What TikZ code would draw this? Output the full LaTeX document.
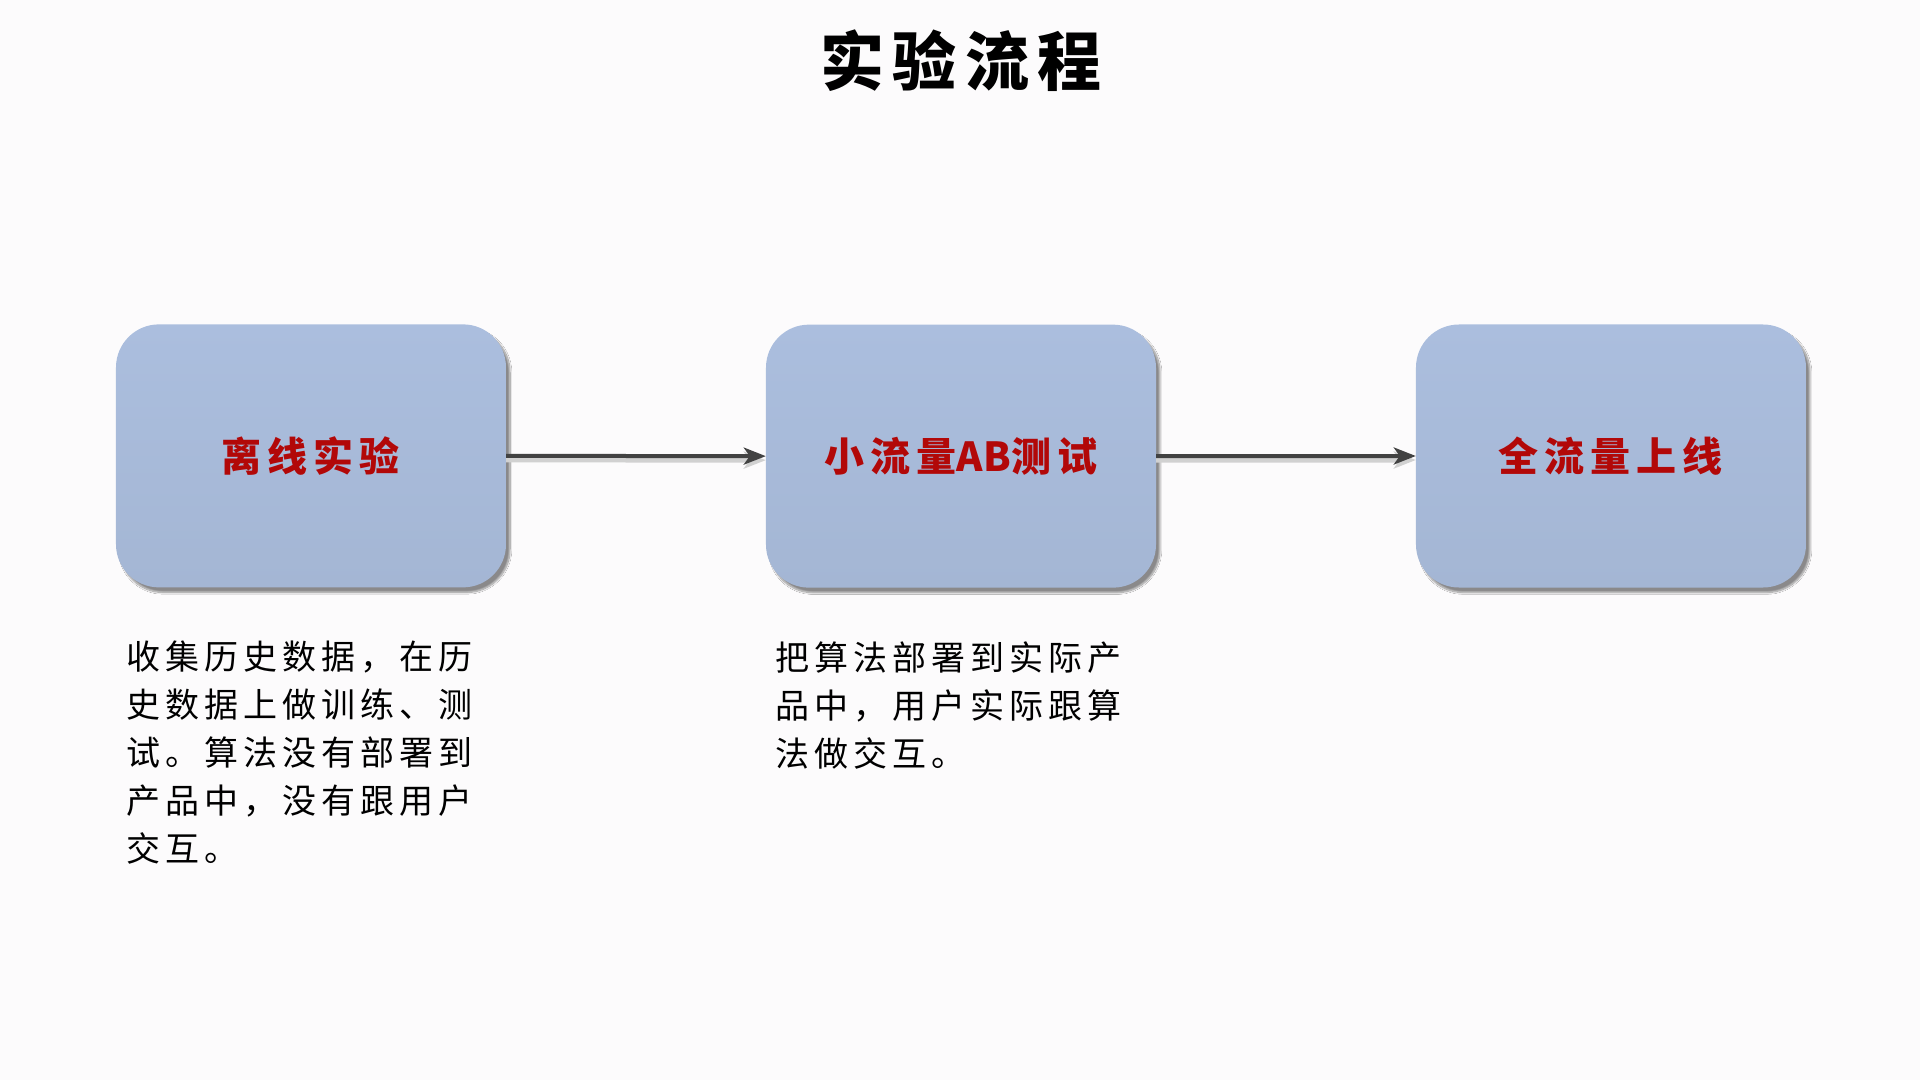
\documentclass[tikz,border=0pt]{standalone}
\usepackage{fontspec}
\usepackage{tikz}
\usetikzlibrary{matrix,shadows.blur,arrows.meta}
\newfontfamily\cjk{Noto Sans CJK SC}
\newcommand{\tightlatin}[1]{{\addfontfeatures{LetterSpace=0}#1}}
\definecolor{pagebg}{RGB}{252,251,252}
\definecolor{boxtop}{RGB}{171,190,222}
\definecolor{boxbottom}{RGB}{164,182,212}
\definecolor{labelred}{RGB}{178,8,8}
\definecolor{arrowgray}{RGB}{66,66,66}

\tikzset{
    stagebox/.style={rectangle, rounded corners=43pt,
        minimum width=390pt, minimum height=263pt,
        top color=boxtop, bottom color=boxbottom,
        blur shadow={shadow xshift=4pt, shadow yshift=-5pt,
            shadow blur steps=12, shadow opacity=45},
        font=\cjk\bfseries\fontsize{40}{48}\selectfont\addfontfeatures{LetterSpace=15},
        text=labelred},
    notetext/.style={inner sep=0pt, anchor=north west, align=left,
        font=\cjk\fontsize{34}{48}\selectfont\addfontfeatures{LetterSpace=15}},
    flowarrow/.style={draw=arrowgray, line width=4pt,
        -{Stealth[length=22pt,width=17pt,inset=6pt]},
        preaction={draw=black!18, line width=5pt,
            transform canvas={yshift=-4pt}}}
}

\begin{document}
\begin{tikzpicture}[x=1pt,y=-1pt]

    \fill[pagebg] (0,0) rectangle (1920,1080);
    \useasboundingbox (0,0) rectangle (1920,1080);

    \node (title) at (961,61) {\cjk\bfseries\fontsize{64}{72}\selectfont\addfontfeatures{LetterSpace=13}实验流程};

    %three stages in one row
    \matrix (m) [matrix of nodes, column sep=260pt,
        nodes={stagebox} ] at (961,456) {
            离线实验 & 小流量\tightlatin{AB}测试 & 全流量上线 \\
    };

    \draw[flowarrow] (m-1-1.east) -- (m-1-2.west);
    \draw[flowarrow] (m-1-2.east) -- (m-1-3.west);

    \node[notetext] (note1) at (126,641) {收集历史数据，在历\\史数据上做训练、测\\试。算法没有部署到\\产品中，没有跟用户\\交互。};
    \node[notetext] (note2) at (775,641) {把算法部署到实际产\\品中，用户实际跟算\\法做交互。};

\end{tikzpicture}
\end{document}
